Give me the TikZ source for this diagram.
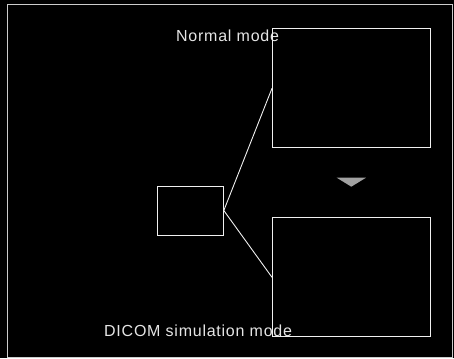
\documentclass[tikz,border=0pt]{standalone}
\usepackage{fontspec}
\setmainfont{Liberation Sans}
\begin{document}
\begin{tikzpicture}[x=1pt,y=-1pt,
  panel/.style={draw=white!94!black, line width=1pt, inner sep=0pt},
  link/.style={draw=white!94!black, line width=0.9pt},
  label/.style={text=white!90!black, inner sep=0pt, anchor=base west,
    font=\fontsize{16}{19}\selectfont\addfontfeature{LetterSpace=4.7}}]
\fill[black] (0,0) rectangle (454,358);
\useasboundingbox (0,0) rectangle (454,358);
\draw[draw=white!80!black, line width=1.5pt] (7.5,4.5) -- (452.5,4.5) -- (452.5,357.5) -- (7.5,357.5) -- cycle;
\node[label] (tn) at (176,41.7) {Normal mode};
\node[label] (tb) at (104,336.7) {DICOM simulation mode};
\node[panel, minimum width=158pt, minimum height=119.5pt] (top) at (351,88) {};
\node[panel, minimum width=158pt, minimum height=119pt] (bot) at (351,276.5) {};
\node[panel, minimum width=66pt, minimum height=49pt] (small) at (190.3,210.5) {};
\coordinate (jt) at (272,88.3);
\coordinate (jb) at (272,277.3);
\draw[link] (small.east) -- (jt);
\draw[link] (small.east) -- (jb);
\fill[white!63!black] (336.7,177.7) -- (366,177.7) -- (351.3,186.7) -- cycle;
\end{tikzpicture}
\end{document}
